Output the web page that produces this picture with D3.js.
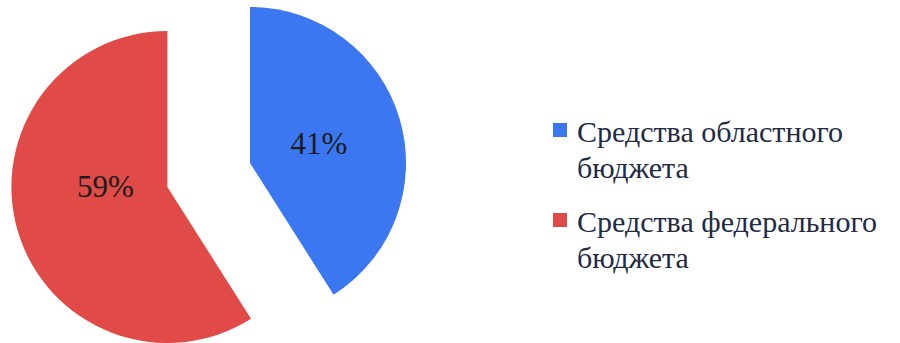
<!DOCTYPE html>
<html>
<head>
<meta charset="utf-8">
<script src="https://cdn.jsdelivr.net/npm/d3@7"></script>
<style>
  body { margin: 0; background: #fff; }
  svg { display: block; }
</style>
</head>
<body>
<svg id="chart"></svg>
<script>
const width = 900;
const height = 343;

const categories = ["Средства областного бюджета", "Средства федерального бюджета"];
const values = [41, 59];
const labelText = ["41%", "59%"];
const legendLines = [["Средства областного", "бюджета"], ["Средства федерального", "бюджета"]];
const colors = ["#3b77f0", "#e04a47"];

// slice offsets from the centre (the red one is pulled out)
const explode = [0, 86];
// small nudges so the labels sit where the original has them
const labelNudge = [[0, 0], [7, -21]];

const cx = 250, cy = 163, radius = 156;
const serif = "Liberation Serif";

const svg = d3.select("#chart")
    .attr("width", width)
    .attr("height", height);

const pie = d3.pie().sort(null).value(d => d);
const arcs = pie(values);

const arc = d3.arc().innerRadius(0).outerRadius(radius);
const labelArc = d3.arc().innerRadius(radius * 0.46).outerRadius(radius * 0.46);

const g = svg.append("g").attr("transform", `translate(${cx},${cy})`);

const slice = g.selectAll(".slice")
    .data(arcs)
    .enter()
    .append("g")
    .attr("class", "slice")
    .attr("transform", (d, i) => {
        const a = (d.startAngle + d.endAngle) / 2;
        return `translate(${Math.sin(a) * explode[i]},${-Math.cos(a) * explode[i]})`;
    });

slice.append("path")
    .attr("d", arc)
    .attr("fill", (d, i) => colors[i]);

slice.append("text")
    .attr("transform", (d, i) => {
        const [x, y] = labelArc.centroid(d);
        return `translate(${x + labelNudge[i][0]},${y + labelNudge[i][1]})`;
    })
    .attr("text-anchor", "middle")
    .attr("dy", "0.35em")
    .attr("font-family", serif)
    .attr("font-size", 31)
    .attr("fill", "#1c1c1c")
    .text((d, i) => labelText[i]);

const legend = svg.append("g").attr("transform", "translate(553,0)");

const item = legend.selectAll(".item")
    .data(categories)
    .enter()
    .append("g")
    .attr("class", "item")
    .attr("transform", (d, i) => `translate(0,${123 + i * 90})`);

item.append("rect")
    .attr("width", 14)
    .attr("height", 14)
    .attr("fill", (d, i) => colors[i]);

item.append("text")
    .attr("x", 24)
    .attr("y", 19)
    .attr("font-family", serif)
    .attr("font-size", 30)
    .attr("fill", "#222a44")
    .selectAll("tspan")
    .data((d, i) => legendLines[i])
    .enter()
    .append("tspan")
    .attr("x", 24)
    .attr("dy", (d, j) => j === 0 ? 0 : 36)
    .text(d => d);
</script>
</body>
</html>
